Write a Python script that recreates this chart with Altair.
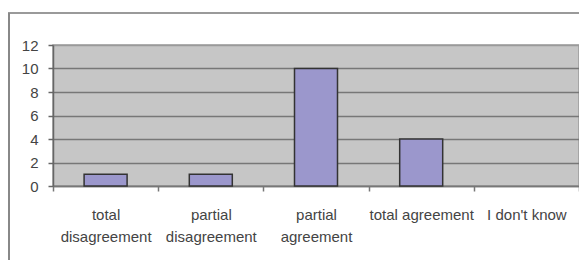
import altair as alt
import pandas as pd

categories = ["total\ndisagreement", "partial\ndisagreement", "partial\nagreement", "total agreement", "I don't know"]
values = [1, 1, 10, 4, 0]
y_ticks = [0, 2, 4, 6, 8, 10, 12]

df = pd.DataFrame({"category": categories, "value": values})

W, H = 526, 141

bars = alt.Chart(df).transform_filter("datum.value > 0").mark_bar(
    size=43, fill="#9b97cc", stroke="#333333", strokeWidth=1.5
).encode(
    x=alt.X("category:N", sort=categories, title=None,
            scale=alt.Scale(domain=categories, paddingInner=0, paddingOuter=0),
            axis=alt.Axis(labelAngle=0, tickBand="extent", labelExpr="split(datum.label, '\\n')",
                          labelFont="Liberation Sans", labelFontSize=15, labelColor="#444444",
                          labelLineHeight=22, labelPadding=16, tickSize=5, tickColor="#777777",
                          tickWidth=1.5, domainColor="#777777", domainWidth=1.5, grid=False)),
    y=alt.Y("value:Q", title=None, scale=alt.Scale(domain=[0, 12], nice=False),
            axis=alt.Axis(values=y_ticks, labelFont="Liberation Sans", labelFontSize=15,
                          labelColor="#444444", labelPadding=10, tickSize=5, tickColor="#666666",
                          tickWidth=1.5, domainColor="#666666", domainWidth=1.5,
                          grid=True, gridWidth=1.5,
                          gridColor={"condition": {"test": "datum.value == 12", "value": "#9a9a9a"}, "value": "#777777"})),
)

top_line = alt.Chart(df).mark_rule(color="#9a9a9a", strokeWidth=2).encode(
    x=alt.value(-45), x2=alt.value(W + 5), y=alt.value(-32)
)
left_line = alt.Chart(df).mark_rule(color="#888888", strokeWidth=2).encode(
    x=alt.value(-44), y=alt.value(-32), y2=alt.value(H + 90)
)

chart = alt.layer(bars, top_line, left_line).properties(
    width=W, height=H,
    autosize=alt.AutoSizeParams(type="none"),
    padding={"left": 45, "top": 37, "right": 0, "bottom": 74},
    background="white",
).configure_view(fill="#c6c6c6", stroke="#9a9a9a", strokeWidth=1.5)

chart.save("out.html", embed_options={"renderer": "svg", "actions": False})
